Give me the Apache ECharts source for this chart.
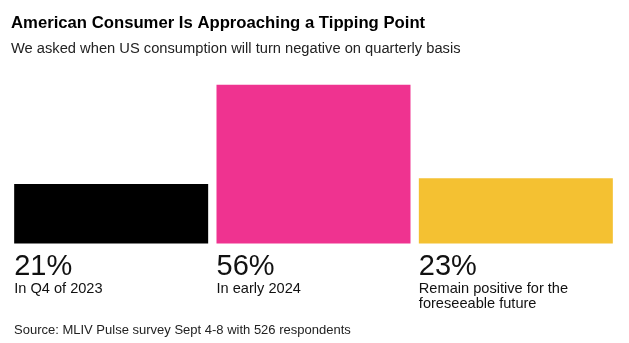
<!DOCTYPE html>
<html>
<head>
<meta charset="utf-8">
<script src="https://cdn.jsdelivr.net/npm/echarts@6/dist/echarts.min.js"></script>
<style>html,body{margin:0;padding:0;background:#fff}#c{width:629px;height:343px}</style>
</head>
<body>
<div id="c"></div>
<script>
var categories = ['In Q4 of 2023', 'In early 2024', 'Remain positive for the\nforeseeable future'];
var values = [21, 56, 23];
var colors = ['#000000', '#EF3390', '#F4C132'];

var chart = echarts.init(document.getElementById('c'), null, {renderer: 'canvas'});
var F = '"Liberation Sans", Arial, Helvetica, sans-serif';
chart.setOption({
  backgroundColor: '#fff',
  animation: false,
  title: {
    text: 'American Consumer Is Approaching a Tipping Point',
    subtext: 'We asked when US consumption will turn negative on quarterly basis',
    left: 6, top: 9.5,
    itemGap: 10,
    textStyle: {fontFamily: F, fontSize: 16.7, fontWeight: 'bold', color: '#000'},
    subtextStyle: {fontFamily: F, fontSize: 14.7, color: '#222'}
  },
  graphic: [{
    type: 'text', left: 14, top: 324,
    style: {text: 'Source: MLIV Pulse survey Sept 4-8 with 526 respondents', font: '13px ' + F, fill: '#222'}
  }],
  grid: {left: 10, right: 12, top: 73.3, bottom: 99.5},
  xAxis: {type: 'category', data: categories, show: false},
  yAxis: {type: 'value', min: 0, max: 60, show: false},
  series: [{
    type: 'bar',
    barWidth: 194,
    data: values.map(function (v, i) { return {value: v, itemStyle: {color: colors[i]}}; }),
    label: {
      show: true,
      position: [0, '100%'],
      offset: [0, 8],
      align: 'left',
      verticalAlign: 'top',
      formatter: function (p) {
        var lines = categories[p.dataIndex].split('\n').map(function (s) { return '{d|' + s + '}'; }).join('\n');
        return '{v|' + values[p.dataIndex] + '%}\n' + lines;
      },
      rich: {
        v: {fontFamily: F, fontSize: 29, lineHeight: 30, color: '#111'},
        d: {fontFamily: F, fontSize: 14.6, lineHeight: 15, color: '#111'}
      }
    }
  }]
});
</script>
</body>
</html>
